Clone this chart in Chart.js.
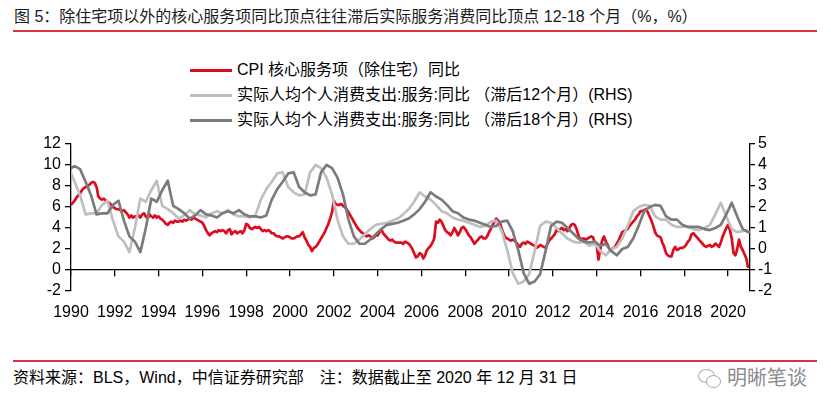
<!DOCTYPE html>
<html>
<head>
<meta charset="utf-8">
<script src="https://cdn.jsdelivr.net/npm/chart.js@4.4.1/dist/chart.umd.min.js"></script>
<style>
  body { margin: 0; background: #fff; font-family: "Liberation Sans", Arial, "Noto Sans CJK SC", sans-serif; }
  #wrap { position: relative; width: 831px; height: 411px; overflow: hidden; background: #fff; }
  .title { position: absolute; left: 14px; top: 8px; font-size: 16px; line-height: 18px; color: #1a1a1a; white-space: nowrap; }
  .rule { position: absolute; left: 13px; width: 804px; height: 2px; background: #d8333a; }
  #legend { position: absolute; left: 190px; top: 57px; font-size: 16px; color: #000; }
  #legend .row { height: 25px; line-height: 25px; white-space: nowrap; }
  #legend .swatch { display: inline-block; width: 42px; height: 3px; vertical-align: middle; margin-right: 5px; }
  canvas { position: absolute; left: 0; top: 130px; }
  .foot { position: absolute; left: 13px; top: 369px; font-size: 16px; line-height: 18px; color: #000; white-space: nowrap; }
  .mark { position: absolute; left: 727px; top: 366px; font-size: 20px; line-height: 24px; color: #8c8c8c; }
  .bubble { position: absolute; border: 1.5px solid #aaa; border-radius: 50%; }
</style>
</head>
<body>
<div id="wrap">
  <div class="title">图 5：除住宅项以外的核心服务项同比顶点往往滞后实际服务消费同比顶点 12-18 个月（%，%）</div>
  <div class="rule" style="top:30px"></div>
  <div id="legend"></div>
  <canvas id="chart" width="831" height="200"></canvas>
  <div class="rule" style="top:360px"></div>
  <div class="foot">资料来源：BLS，Wind，中信证券研究部　注：数据截止至 2020 年 12 月 31 日</div>
  <span class="bubble" style="left:698px;top:369px;width:15px;height:12px"></span>
  <span class="bubble" style="left:706px;top:375px;width:13px;height:11px;background:#fff"></span>
  <div class="mark">明晰笔谈</div>
</div>
<script>
const seriesLabels = [
    'CPI 核心服务项（除住宅）同比',
    '实际人均个人消费支出:服务:同比 （滞后12个月）(RHS)',
    '实际人均个人消费支出:服务:同比 （滞后18个月）(RHS)'
];
const seriesColors = ['#dc0d1e', '#bfbfbf', '#7b7b7b'];
const tickYears = [1990, 1992, 1994, 1996, 1998, 2000, 2002, 2004, 2006, 2008, 2010, 2012, 2014, 2016, 2018, 2020];
const lagMonths = [12, 18];

// CPI core services ex housing, yoy %, monthly from Jan 1990
const cpiStartYear = 1990;
const cpiCore = [
    6.2, 6.4, 6.6, 6.9, 7.1, 7.3, 7.6, 7.8, 7.9, 8.0, 8.1, 8.3, // 1990
    8.4, 8.3, 7.9, 7.0, 6.8, 6.7, 6.8, 6.6, 6.5, 6.4, 6.2, 6.0, // 1991
    5.9, 5.8, 5.8, 5.7, 5.6, 5.7, 5.5, 5.3, 5.0, 5.2, 5.0, 5.1, // 1992
    5.1, 5.2, 5.0, 5.3, 5.4, 5.1, 4.9, 5.3, 5.1, 5.0, 5.2, 5.0, // 1993
    5.1, 4.9, 4.8, 4.6, 4.4, 4.3, 4.5, 4.6, 4.5, 4.7, 4.6, 4.6, // 1994
    4.7, 4.6, 4.8, 4.7, 4.8, 4.9, 4.8, 5.0, 4.9, 4.8, 4.7, 4.6, // 1995
    4.5, 4.2, 3.8, 3.5, 3.3, 3.5, 3.6, 3.7, 3.6, 3.8, 3.7, 3.8, // 1996
    3.7, 3.5, 3.8, 3.9, 3.4, 3.6, 3.7, 3.5, 3.6, 3.7, 3.5, 3.8, // 1997
    4.4, 4.3, 4.0, 3.9, 4.0, 4.1, 4.0, 4.1, 3.9, 3.7, 3.8, 3.7, // 1998
    3.8, 3.7, 3.5, 3.5, 3.3, 3.2, 3.2, 3.1, 3.0, 3.1, 3.2, 3.2, // 1999
    3.1, 3.0, 3.0, 3.1, 3.2, 3.2, 3.4, 3.6, 3.1, 2.8, 2.4, 2.2, // 2000
    1.8, 2.1, 2.2, 2.4, 2.7, 3.0, 3.3, 3.6, 4.0, 4.4, 4.9, 5.5, // 2001
    6.6, 6.3, 6.2, 6.2, 6.3, 6.1, 6.0, 5.8, 5.5, 5.2, 4.9, 4.6, // 2002
    4.3, 4.0, 3.8, 3.6, 3.5, 3.3, 3.2, 3.3, 3.2, 3.0, 3.1, 3.3, // 2003
    3.3, 3.6, 3.9, 3.5, 3.3, 3.1, 2.9, 2.8, 2.9, 2.7, 2.6, 2.6, // 2004
    2.6, 2.6, 2.5, 2.7, 2.6, 2.5, 2.3, 2.0, 1.6, 1.2, 1.3, 1.6, // 2005
    1.5, 1.1, 1.4, 1.9, 2.1, 2.3, 2.6, 3.0, 4.6, 4.5, 4.8, 4.6, // 2006
    4.2, 3.8, 3.6, 3.5, 3.3, 3.6, 4.0, 3.7, 3.3, 3.6, 4.0, 4.1, // 2007
    3.9, 3.6, 3.3, 3.1, 2.8, 2.5, 2.7, 2.9, 3.1, 3.2, 3.0, 3.0, // 2008
    3.2, 3.6, 3.9, 4.3, 4.6, 4.9, 4.7, 4.5, 3.9, 3.4, 3.1, 3.0, // 2009
    2.9, 2.8, 2.9, 2.8, 2.6, 2.4, 2.2, 2.5, 2.6, 2.5, 2.7, 2.6, // 2010
    2.5, 2.4, 2.3, 2.1, 2.2, 2.4, 2.3, 2.2, 2.1, 2.5, 2.8, 3.0, // 2011
    3.2, 3.4, 3.8, 3.7, 3.9, 4.0, 3.8, 3.9, 3.7, 4.0, 4.3, 4.4, // 2012
    4.3, 3.9, 3.3, 2.9, 3.0, 3.0, 2.9, 3.0, 3.1, 3.2, 3.1, 2.6, // 2013
    2.3, 1.0, 2.0, 2.8, 3.2, 2.7, 2.4, 2.0, 1.9, 2.1, 2.2, 2.5, // 2014
    2.8, 3.2, 3.6, 3.7, 3.8, 3.9, 4.2, 4.4, 4.6, 4.8, 5.1, 5.3, // 2015
    5.6, 5.6, 5.7, 5.8, 5.5, 5.1, 4.7, 4.2, 3.6, 3.3, 3.2, 3.1, // 2016
    2.6, 2.2, 1.6, 1.4, 1.3, 1.3, 1.9, 2.2, 1.9, 2.0, 2.1, 2.1, // 2017
    2.2, 2.4, 2.7, 2.9, 3.4, 3.5, 3.3, 3.1, 2.9, 2.7, 2.5, 2.3, // 2018
    2.2, 2.3, 2.4, 2.2, 2.3, 2.5, 2.4, 2.2, 2.6, 3.2, 3.6, 4.0, // 2019
    4.3, 3.8, 3.0, 1.6, 1.4, 2.0, 2.9, 2.2, 1.9, 1.5, 1.1, 0.2  // 2020
];

// real per capita PCE services, yoy %, quarterly (Mar/Jun/Sep/Dec), first value Jun 1988
const pceFirst = [1988, 6];
const pceYoy = [
    3.8, 3.95, 3.8,           // 1988
    3.2, 2.55, 1.65, 1.7,     // 1989
    1.7, 2.1, 2.3, 1.35,      // 1990
    0.6, 0.35, -0.15, 1.0,    // 1991
    2.4, 2.25, 2.8, 3.25,     // 1992
    2.05, 1.9, 1.7, 1.45,     // 1993
    1.6, 1.85, 1.65, 1.6,     // 1994
    1.5, 1.7, 1.8, 1.7,       // 1995
    1.85, 1.65, 1.55, 1.55,   // 1996
    1.5, 1.6, 2.35, 2.85,     // 1997
    3.2, 3.6, 3.65, 2.95,     // 1998
    2.7, 2.55, 2.6, 3.65,     // 1999
    4.0, 3.85, 3.4, 2.6,      // 2000
    1.4, 0.6, 0.25, 0.25,     // 2001
    0.45, 0.7, 0.95, 1.15,    // 2002
    1.2, 1.25, 1.35, 1.45,    // 2003
    1.65, 1.9, 2.25, 2.7,     // 2004
    2.5, 2.35, 2.1, 1.8,      // 2005
    1.7, 1.5, 1.4, 1.35,      // 2006
    1.25, 1.15, 1.05, 1.1,    // 2007
    1.3, 1.35, 0.85, -0.05,   // 2008
    -1.15, -1.65, -1.55, -1.2,// 2009
    -0.1, 1.1, 1.3, 1.25,     // 2010
    1.0, 0.75, 0.5, 0.35,     // 2011
    0.3, 0.35, 0.15, 0.25,    // 2012
    -0.1, -0.3, 0.0, 0.1,     // 2013
    0.5, 1.1, 1.8, 2.0,       // 2014
    2.1, 2.05, 1.55, 1.4,     // 2015
    1.4, 1.15, 1.05, 1.05,    // 2016
    1.05, 0.95, 0.9, 1.0,     // 2017
    1.15, 1.65, 2.2, 1.55,    // 2018
    0.95, 0.8, 0.85, 0.9      // 2019
];

function cpiPoints() {
    return cpiCore.map((v, i) => ({ x: cpiStartYear + i / 12, y: v }));
}

function laggedPce(lag) {
    return pceYoy.map((v, i) => ({
        x: pceFirst[0] + (pceFirst[1] - 1 + 3 * i + lag) / 12,
        y: v
    }));
}

// html legend, one item per row
let legendEl = document.getElementById('legend');
for (let i = 0; i < seriesLabels.length; i++) {
    let row = document.createElement('div');
    row.className = 'row';
    let sw = document.createElement('span');
    sw.className = 'swatch';
    sw.style.background = seriesColors[i];
    row.appendChild(sw);
    row.appendChild(document.createTextNode(seriesLabels[i]));
    legendEl.appendChild(row);
}

Chart.defaults.font.family = '"Liberation Sans", Arial, sans-serif';
Chart.defaults.font.size = 16;
Chart.defaults.color = '#000';

function lineSet(label, data, color, axis, order) {
    return {
        label: label,
        data: data,
        yAxisID: axis,
        borderColor: color,
        backgroundColor: color,
        borderWidth: 2.7,
        pointRadius: 0,
        tension: 0,
        borderJoinStyle: 'round',
        clip: 0,
        order: order
    };
}

new Chart(document.getElementById('chart'), {
    type: 'line',
    data: {
        datasets: [
            lineSet(seriesLabels[0], cpiPoints(), seriesColors[0], 'y', 3),
            lineSet(seriesLabels[1], laggedPce(lagMonths[0]), seriesColors[1], 'y1', 2),
            lineSet(seriesLabels[2], laggedPce(lagMonths[1]), seriesColors[2], 'y1', 1)
        ]
    },
    options: {
        responsive: false,
        animation: false,
        devicePixelRatio: 1,
        layout: { padding: { top: 14, left: 0, right: 0, bottom: 0 } },
        plugins: { legend: { display: false }, tooltip: { enabled: false } },
        scales: {
            x: {
                type: 'linear',
                min: 1990,
                max: 2021,
                position: 'bottom',
                afterBuildTicks: s => { s.ticks = tickYears.map(v => ({ value: v })); },
                afterFit: s => { s.height = 39; },
                grid: { display: false, drawTicks: false },
                border: { display: false },
                ticks: { padding: 12, maxRotation: 0, autoSkip: false, callback: v => String(v) }
            },
            xAxisLine: {
                type: 'linear',
                axis: 'x',
                min: 1990,
                max: 2021,
                position: { y: 0 },
                afterBuildTicks: s => { s.ticks = tickYears.map(v => ({ value: v })); },
                grid: { drawOnChartArea: false, drawTicks: true, tickLength: 6, color: '#000', lineWidth: 1.3 },
                border: { color: '#000', width: 1.3 },
                ticks: { display: false }
            },
            y: {
                position: 'left',
                min: -2,
                max: 12,
                afterFit: s => { s.width = 71; },
                grid: { drawOnChartArea: false, tickLength: 6, color: '#000', lineWidth: 1.3 },
                border: { color: '#000', width: 1.3 },
                ticks: { stepSize: 2, padding: 4, autoSkip: false }
            },
            y1: {
                position: 'right',
                min: -2,
                max: 5,
                afterFit: s => { s.width = 81; },
                grid: { drawOnChartArea: false, tickLength: 5, color: '#000', lineWidth: 1.3 },
                border: { color: '#000', width: 1.3 },
                ticks: { stepSize: 1, padding: 3, autoSkip: false }
            }
        }
    }
});
</script>
</body>
</html>
